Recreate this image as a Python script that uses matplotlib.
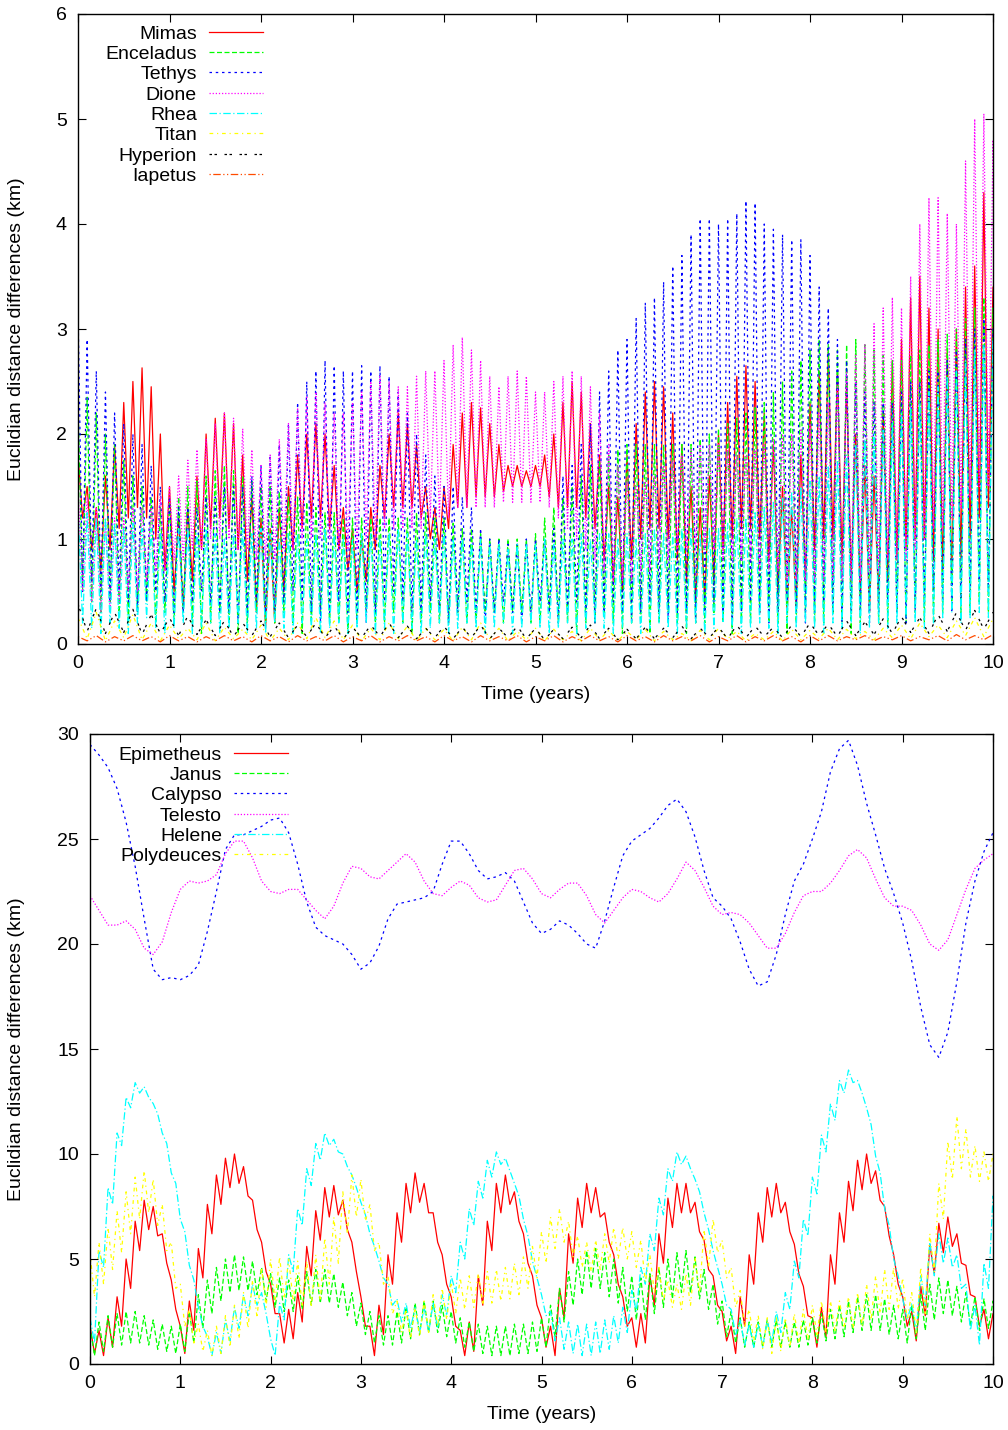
import numpy as np
import matplotlib
matplotlib.use("Agg")
import matplotlib.pyplot as plt

plt.rcParams['font.family'] = ['Liberation Sans', 'DejaVu Sans']
plt.rcParams['font.size'] = 14

# --- data ---
# time grids (years): 0.1 step for most series, 0.2 step for the small ones
t_fine = np.round(np.arange(0, 10.01, 0.1), 2)
t_coarse = np.round(np.arange(0, 10.01, 0.2), 2)

# top panel: local maxima (hi) and minima (lo) of each oscillating series, km
mimas_hi = [1.8, 1.5, 1.3, 1.6, 1.9, 2.3, 2.5, 2.63, 2.45, 2.0,
            1.5, 1.2, 1.3, 1.6, 2.0, 2.15, 2.2, 2.1, 1.8, 1.4,
            1.2, 1.1, 1.3, 1.5, 1.8, 2.0, 2.1, 2.0, 1.7, 1.3,
            1.1, 1.0, 1.3, 1.7, 2.0, 2.2, 2.1, 1.9, 1.5, 1.3,
            1.5, 1.9, 2.2, 2.3, 2.25, 2.1, 1.9, 1.7, 1.7, 1.65,
            1.7, 1.8, 2.0, 2.3, 2.5, 2.4, 2.1, 1.8, 1.5, 1.4,
            1.8, 2.1, 2.4, 2.5, 2.45, 2.2, 1.9, 1.5, 1.3, 1.6,
            2.0, 2.3, 2.55, 2.65, 2.5, 2.2, 1.9, 1.5, 1.3, 1.8,
            2.3, 2.6, 2.8, 2.6, 2.5, 2.0, 1.7, 1.6, 2.2, 2.7,
            2.9, 3.3, 3.5, 3.2, 3.0, 2.8, 3.0, 3.4, 3.6, 4.3,
            3.4]
mimas_lo = [1.2, 0.9, 0.7, 0.9, 1.1, 1.2, 1.3, 1.2, 1.0, 0.7,
            0.5, 0.3, 0.6, 0.9, 1.1, 1.2, 1.1, 0.9, 0.6, 0.3,
            0.15, 0.2, 0.5, 0.9, 1.1, 1.2, 1.2, 1.1, 0.9, 0.7,
            0.5, 0.6, 0.9, 1.2, 1.3, 1.3, 1.3, 1.2, 1.0, 0.9,
            1.1, 1.3, 1.3, 1.4, 1.4, 1.4, 1.45, 1.5, 1.5, 1.5,
            1.5, 1.4, 1.3, 1.3, 1.3, 1.2, 1.1, 0.8, 0.6, 0.5,
            0.8, 1.0, 1.1, 1.1, 1.0, 0.8, 0.6, 0.4, 0.4, 0.6,
            0.9, 1.0, 1.1, 1.1, 1.0, 0.8, 0.5, 0.3, 0.3, 0.6,
            0.9, 1.0, 1.0, 0.8, 0.6, 0.4, 0.3, 0.4, 0.6, 0.8,
            0.9, 1.0, 1.0, 0.8, 0.7, 0.6, 0.8, 1.0, 1.2, 1.3,
            1.2]
enceladus_hi = [2.3, 2.35, 2.2, 2.0, 1.9, 1.75, 1.6, 1.5, 1.4, 1.3,
                1.35, 1.4, 1.5, 1.55, 1.6, 1.65, 1.7, 1.65, 1.6, 1.55,
                1.5, 1.5, 1.45, 1.4, 1.4, 1.35, 1.3, 1.25, 1.25, 1.2,
                1.2, 1.2, 1.2, 1.2, 1.2, 1.2, 1.2, 1.25, 1.25, 1.2,
                1.2, 1.15, 1.1, 1.1, 1.05, 1.0, 1.0, 1.0, 1.0, 1.0,
                1.05, 1.2, 1.3, 1.4, 1.5, 1.6, 1.7, 1.75, 1.8, 1.85,
                1.9, 1.9, 1.9, 1.9, 1.9, 1.9, 1.9, 1.9, 1.95, 2.0,
                2.05, 2.1, 2.15, 2.2, 2.25, 2.3, 2.4, 2.5, 2.6, 2.7,
                2.8, 2.9, 2.85, 2.8, 2.85, 2.9, 2.85, 2.8, 2.75, 2.7,
                2.7, 2.75, 2.8, 2.85, 2.9, 2.95, 3.0, 3.1, 3.2, 3.3,
                3.2]
enceladus_lo = [0.5, 0.4, 0.3, 0.4, 0.3, 0.2, 0.3, 0.4, 0.2, 0.3,
                0.2, 0.3, 0.2, 0.1, 0.2, 0.3, 0.2, 0.1, 0.2, 0.3,
                0.2, 0.2, 0.3, 0.2, 0.1, 0.2, 0.3, 0.2, 0.2, 0.1,
                0.2, 0.3, 0.2, 0.2, 0.3, 0.2, 0.1, 0.2, 0.3, 0.2,
                0.2, 0.3, 0.2, 0.2, 0.3, 0.3, 0.2, 0.3, 0.3, 0.2,
                0.2, 0.3, 0.2, 0.2, 0.1, 0.2, 0.2, 0.3, 0.2, 0.1,
                0.2, 0.2, 0.1, 0.2, 0.3, 0.2, 0.1, 0.2, 0.2, 0.3,
                0.2, 0.1, 0.2, 0.2, 0.3, 0.2, 0.2, 0.1, 0.2, 0.3,
                0.2, 0.2, 0.3, 0.2, 0.1, 0.2, 0.3, 0.2, 0.2, 0.3,
                0.2, 0.3, 0.2, 0.2, 0.3, 0.4, 0.3, 0.3, 0.4, 0.3,
                0.4]
tethys_hi = [3.2, 2.9, 2.6, 2.4, 2.2, 2.1, 2.0, 1.9, 1.7, 1.5,
             1.4, 1.3, 1.3, 1.3, 1.4, 1.4, 1.5, 1.5, 1.5, 1.6,
             1.7, 1.8, 1.9, 2.1, 2.3, 2.5, 2.6, 2.7, 2.65, 2.6,
             2.6, 2.65, 2.6, 2.65, 2.55, 2.4, 2.2, 2.0, 1.8, 1.6,
             1.5, 1.5, 1.4, 1.3, 1.1, 1.0, 1.0, 0.95, 0.95, 1.0,
             1.0, 1.0, 1.1, 1.6, 1.7, 1.9, 2.1, 2.4, 2.6, 2.8,
             2.9, 3.1, 3.25, 3.3, 3.45, 3.6, 3.7, 3.9, 4.05, 4.05,
             4.0, 4.05, 4.1, 4.22, 4.2, 4.0, 3.95, 3.9, 3.85, 3.85,
             3.7, 3.4, 3.2, 2.9, 2.7, 2.5, 2.4, 2.3, 2.3, 2.3,
             2.4, 2.5, 2.5, 2.6, 2.6, 2.7, 2.8, 2.9, 3.0, 3.1,
             3.0]
tethys_lo = [0.5, 0.6, 0.5, 0.4, 0.5, 0.4, 0.3, 0.4, 0.5, 0.4,
             0.3, 0.3, 0.4, 0.5, 0.4, 0.3, 0.3, 0.2, 0.3, 0.4,
             0.3, 0.3, 0.4, 0.5, 0.4, 0.3, 0.2, 0.3, 0.4, 0.3,
             0.2, 0.2, 0.3, 0.4, 0.5, 0.4, 0.3, 0.3, 0.4, 0.3,
             0.2, 0.3, 0.4, 0.3, 0.2, 0.3, 0.4, 0.3, 0.2, 0.3,
             0.4, 0.3, 0.2, 0.3, 0.4, 0.3, 0.2, 0.3, 0.4, 0.3,
             0.2, 0.3, 0.4, 0.3, 0.2, 0.3, 0.3, 0.2, 0.3, 0.4,
             0.3, 0.2, 0.3, 0.4, 0.3, 0.2, 0.3, 0.4, 0.3, 0.2,
             0.3, 0.4, 0.3, 0.2, 0.3, 0.3, 0.2, 0.3, 0.4, 0.3,
             0.2, 0.3, 0.4, 0.5, 0.4, 0.3, 0.4, 0.5, 0.6, 0.5,
             0.6]
dione_hi = [1.5, 1.4, 1.3, 1.2, 1.2, 1.2, 1.3, 1.3, 1.3, 1.4,
            1.5, 1.6, 1.75, 1.85, 1.95, 2.1, 2.2, 2.15, 2.05, 1.85,
            1.7, 1.8, 1.95, 2.1, 2.25, 2.35, 2.4, 2.3, 2.2, 2.2,
            2.3, 2.4, 2.5, 2.55, 2.5, 2.45, 2.45, 2.55, 2.6, 2.6,
            2.7, 2.85, 2.92, 2.8, 2.7, 2.55, 2.45, 2.55, 2.6, 2.55,
            2.4, 2.4, 2.5, 2.55, 2.6, 2.55, 2.45, 2.2, 1.9, 1.7,
            1.55, 1.5, 1.55, 1.6, 1.7, 1.75, 1.8, 1.85, 1.9, 1.9,
            1.9, 1.85, 1.8, 1.8, 1.85, 1.9, 1.95, 2.0, 2.0, 2.05,
            2.1, 2.2, 2.3, 2.45, 2.6, 2.75, 2.85, 3.05, 3.2, 3.3,
            3.2, 3.5, 4.0, 4.25, 4.25, 4.1, 4.0, 4.6, 5.0, 5.05,
            4.8]
dione_lo = [0.5, 0.4, 0.3, 0.3, 0.4, 0.5, 0.5, 0.6, 0.7, 0.7,
            0.8, 0.8, 0.9, 0.9, 1.0, 1.0, 1.0, 0.9, 0.9, 0.8,
            0.8, 0.8, 0.9, 0.9, 1.0, 1.0, 1.0, 1.0, 0.9, 0.9,
            0.9, 1.0, 1.0, 1.1, 1.1, 1.1, 1.1, 1.1, 1.2, 1.2,
            1.2, 1.3, 1.3, 1.3, 1.3, 1.3, 1.35, 1.35, 1.35, 1.35,
            1.35, 1.3, 1.2, 1.1, 1.0, 0.9, 0.8, 0.7, 0.6, 0.6,
            0.6, 0.7, 0.7, 0.8, 0.8, 0.9, 0.9, 0.9, 0.9, 0.9,
            0.8, 0.8, 0.8, 0.8, 0.7, 0.7, 0.7, 0.6, 0.6, 0.6,
            0.6, 0.6, 0.6, 0.6, 0.6, 0.6, 0.7, 0.7, 0.8, 0.8,
            0.8, 0.9, 1.0, 1.1, 1.1, 1.2, 1.3, 1.4, 1.5, 1.5,
            1.4]
rhea_hi = [1.3, 1.25, 1.2, 1.2, 1.15, 1.1, 1.15, 1.1, 1.1, 1.05,
           1.05, 1.1, 1.1, 1.05, 1.1, 1.05, 1.0, 1.05, 1.1, 1.05,
           1.1, 1.05, 1.0, 1.05, 1.05, 1.0, 1.05, 1.1, 1.05, 1.0,
           1.0, 1.05, 1.05, 1.0, 1.05, 1.1, 1.05, 1.0, 1.05, 1.0,
           1.05, 1.0, 1.0, 0.95, 1.0, 0.95, 0.95, 0.9, 0.95, 0.95,
           0.95, 1.0, 0.95, 1.0, 1.0, 1.05, 1.0, 1.05, 1.05, 1.0,
           1.05, 1.0, 1.05, 1.1, 1.05, 1.05, 1.1, 1.1, 1.05, 1.1,
           1.1, 1.15, 1.2, 1.2, 1.25, 1.3, 1.35, 1.4, 1.45, 1.5,
           1.55, 1.6, 1.7, 1.75, 1.8, 1.9, 1.95, 2.0, 2.05, 2.1,
           2.2, 2.25, 2.3, 2.4, 2.45, 2.55, 2.6, 2.7, 2.8, 2.85,
           2.9]
rhea_lo = [0.2, 0.15, 0.1, 0.2, 0.15, 0.1, 0.2, 0.25, 0.15, 0.1,
           0.15, 0.2, 0.1, 0.15, 0.2, 0.1, 0.15, 0.2, 0.1, 0.15,
           0.1, 0.2, 0.15, 0.1, 0.2, 0.15, 0.1, 0.15, 0.2, 0.1,
           0.15, 0.2, 0.1, 0.15, 0.1, 0.2, 0.15, 0.1, 0.15, 0.2,
           0.1, 0.15, 0.2, 0.15, 0.1, 0.15, 0.2, 0.1, 0.15, 0.2,
           0.15, 0.1, 0.15, 0.2, 0.1, 0.15, 0.2, 0.15, 0.1, 0.15,
           0.2, 0.1, 0.15, 0.2, 0.15, 0.1, 0.15, 0.2, 0.1, 0.15,
           0.2, 0.15, 0.1, 0.15, 0.2, 0.15, 0.1, 0.2, 0.15, 0.2,
           0.15, 0.1, 0.2, 0.15, 0.2, 0.1, 0.15, 0.2, 0.15, 0.2,
           0.25, 0.2, 0.15, 0.2, 0.25, 0.3, 0.2, 0.25, 0.3, 0.25,
           0.3]
titan_hi = [0.25, 0.3, 0.22, 0.28, 0.2, 0.18, 0.15, 0.2, 0.16, 0.14, 0.18,
            0.15, 0.2, 0.25, 0.22, 0.18, 0.15, 0.2, 0.17, 0.15, 0.14,
            0.16, 0.2, 0.15, 0.12, 0.15, 0.14, 0.12, 0.15, 0.13, 0.12,
            0.14, 0.12, 0.1, 0.13, 0.15, 0.12, 0.1, 0.12, 0.14, 0.13,
            0.15, 0.14, 0.12, 0.15, 0.18, 0.2, 0.18, 0.22, 0.25, 0.24]
titan_lo = [0.05, 0.03, 0.06, 0.04, 0.03, 0.05, 0.04, 0.03, 0.05, 0.04, 0.03,
            0.04, 0.05, 0.06, 0.04, 0.03, 0.04, 0.05, 0.03, 0.04, 0.03,
            0.04, 0.05, 0.03, 0.04, 0.03, 0.04, 0.03, 0.04, 0.03, 0.04,
            0.03, 0.04, 0.03, 0.04, 0.05, 0.03, 0.04, 0.03, 0.04, 0.05,
            0.04, 0.05, 0.04, 0.06, 0.05, 0.07, 0.06, 0.08, 0.07, 0.08]
hyperion_hi = [0.38, 0.34, 0.3, 0.33, 0.28, 0.25, 0.27, 0.23, 0.22, 0.2, 0.22,
               0.2, 0.18, 0.2, 0.17, 0.16, 0.18, 0.2, 0.17, 0.15, 0.17,
               0.16, 0.18, 0.15, 0.17, 0.15, 0.14, 0.16, 0.18, 0.15, 0.14,
               0.16, 0.15, 0.17, 0.15, 0.16, 0.18, 0.17, 0.16, 0.18, 0.2,
               0.19, 0.22, 0.21, 0.24, 0.26, 0.25, 0.28, 0.3, 0.32, 0.3]
hyperion_lo = [0.12, 0.1, 0.11, 0.09, 0.1, 0.08, 0.09, 0.08, 0.07, 0.08, 0.07,
               0.06, 0.07, 0.06, 0.05, 0.06, 0.07, 0.06, 0.05, 0.06, 0.05,
               0.06, 0.05, 0.06, 0.05, 0.04, 0.05, 0.06, 0.05, 0.04, 0.05,
               0.05, 0.06, 0.05, 0.06, 0.05, 0.06, 0.07, 0.06, 0.07, 0.08,
               0.07, 0.08, 0.09, 0.1, 0.11, 0.1, 0.12, 0.13, 0.14, 0.13]
iapetus_hi = [0.07, 0.08, 0.07, 0.08, 0.07, 0.08, 0.07, 0.07, 0.08, 0.07, 0.08,
              0.07, 0.08, 0.07, 0.08, 0.07, 0.08, 0.07, 0.08, 0.07, 0.08,
              0.07, 0.08, 0.07, 0.08, 0.07, 0.08, 0.07, 0.08, 0.07, 0.08,
              0.07, 0.08, 0.07, 0.08, 0.07, 0.08, 0.07, 0.08, 0.07, 0.08,
              0.08, 0.07, 0.08, 0.07, 0.08, 0.07, 0.08, 0.09, 0.08, 0.09]
iapetus_lo = [0.03, 0.02, 0.03, 0.03, 0.02, 0.03, 0.02, 0.03, 0.03, 0.02, 0.03,
              0.02, 0.03, 0.03, 0.02, 0.03, 0.02, 0.03, 0.03, 0.02, 0.03,
              0.02, 0.03, 0.03, 0.02, 0.03, 0.02, 0.03, 0.03, 0.02, 0.03,
              0.02, 0.03, 0.03, 0.02, 0.03, 0.02, 0.03, 0.03, 0.02, 0.03,
              0.03, 0.04, 0.03, 0.04, 0.03, 0.04, 0.03, 0.04, 0.04, 0.04]

# bottom panel
calypso = [29.5, 29.0, 28.4, 27.4, 25.8, 23.7, 21.2, 18.8, 18.3, 18.4,
           18.3, 18.5, 19.0, 20.6, 22.5, 24.5, 25.2, 25.2, 25.4, 25.6,
           25.9, 26.0, 25.3, 23.8, 22.0, 20.8, 20.4, 20.2, 20.0, 19.5,
           18.8, 19.1, 19.9, 21.2, 21.9, 22.0, 22.1, 22.2, 22.5, 23.8,
           24.9, 24.9, 24.3, 23.5, 23.1, 23.2, 23.4, 23.0, 22.0, 21.0,
           20.5, 20.7, 21.1, 20.9, 20.5, 20.0, 19.8, 21.1, 22.7, 24.2,
           24.9, 25.2, 25.5, 26.0, 26.6, 26.9, 26.3, 25.1, 23.5, 22.2,
           21.8, 21.2, 20.1, 18.8, 18.0, 18.2, 19.5, 21.4, 23.0, 23.8,
           25.0, 26.3, 28.2, 29.3, 29.7, 28.5, 26.7, 25.2, 23.6, 22.4,
           21.0, 19.2, 17.0, 15.2, 14.6, 15.8, 18.2, 21.0, 23.0, 24.4,
           25.3]
telesto = [22.3, 21.6, 20.9, 20.9, 21.1, 20.7, 19.8, 19.5, 20.1, 21.5,
           22.6, 23.0, 22.9, 23.0, 23.3, 24.3, 24.9, 24.9, 24.1, 23.0,
           22.5, 22.4, 22.6, 22.6, 22.1, 21.6, 21.2, 21.8, 22.9, 23.7,
           23.6, 23.2, 23.1, 23.5, 23.9, 24.3, 23.9, 23.0, 22.4, 22.3,
           22.7, 23.0, 22.8, 22.2, 22.0, 22.1, 22.8, 23.5, 23.6, 23.1,
           22.4, 22.2, 22.6, 22.9, 22.9, 22.3, 21.4, 21.0, 21.6, 22.2,
           22.6, 22.5, 22.2, 22.0, 22.4, 23.1, 23.9, 23.5, 22.7, 21.8,
           21.4, 21.5, 21.4, 21.0, 20.4, 19.8, 19.8, 20.5, 21.5, 22.3,
           22.5, 22.5, 22.9, 23.5, 24.2, 24.5, 24.1, 23.1, 22.2, 21.8,
           21.8, 21.6, 20.9, 20.0, 19.7, 20.2, 21.4, 22.6, 23.6, 24.0,
           24.3]
epimetheus_hi = [1.8, 1.6, 2.2, 3.2, 5.0, 6.8, 7.8, 7.5, 6.2, 4.0,
                 1.8, 3.0, 5.5, 7.6, 9.0, 9.8, 10.0, 9.4, 7.8, 5.8,
                 3.8, 2.4, 2.6, 3.4, 5.6, 7.3, 8.4, 8.5, 7.8, 5.8,
                 3.2, 1.8, 2.8, 5.2, 7.2, 8.6, 9.1, 8.6, 7.2, 5.2,
                 3.2, 1.6, 2.0, 4.2, 6.8, 8.6, 9.0, 8.2, 6.2, 4.2,
                 2.2, 1.8, 3.6, 6.2, 7.9, 8.6, 8.4, 7.2, 5.2, 3.2,
                 2.2, 2.4, 4.2, 6.2, 7.9, 8.6, 8.6, 7.7, 5.9, 4.2,
                 2.5, 1.8, 3.2, 5.2, 7.2, 8.4, 8.6, 7.7, 5.7, 3.7,
                 2.2, 2.7, 5.2, 7.2, 8.7, 9.7, 10.0, 9.2, 7.5, 5.2,
                 3.2, 2.5, 3.7, 5.7, 6.7, 7.0, 6.2, 4.7, 3.2, 2.6,
                 2.4]
epimetheus_lo = [0.5, 0.4, 0.8, 1.8, 3.6, 5.4, 6.4, 6.1, 4.8, 2.6,
                 0.5, 1.6, 4.1, 6.2, 7.6, 8.4, 8.6, 8.0, 6.4, 4.4,
                 2.4, 1.0, 1.2, 2.0, 4.2, 5.9, 7.0, 7.1, 6.4, 4.4,
                 1.8, 0.4, 1.4, 3.8, 5.8, 7.2, 7.7, 7.2, 5.8, 3.8,
                 1.8, 0.4, 0.6, 2.8, 5.4, 7.2, 7.6, 6.8, 4.8, 2.8,
                 0.8, 0.4, 2.2, 4.8, 6.5, 7.2, 7.0, 5.8, 3.8, 1.8,
                 0.8, 1.0, 2.8, 4.8, 6.5, 7.2, 7.2, 6.3, 4.5, 2.8,
                 1.1, 0.5, 1.8, 3.8, 5.8, 7.0, 7.2, 6.3, 4.3, 2.3,
                 0.8, 1.3, 3.8, 5.8, 7.3, 8.3, 8.6, 7.8, 6.1, 3.8,
                 1.8, 1.1, 2.3, 4.3, 5.3, 5.6, 4.8, 3.3, 1.8, 1.2,
                 1.0]
janus_hi = [1.8, 2.0, 2.3, 2.4, 2.5, 2.5, 2.3, 2.1, 1.9, 1.8,
            1.9, 2.5, 3.3, 4.0, 4.6, 5.0, 5.2, 5.1, 4.9, 4.6,
            4.3, 4.1, 4.0, 4.2, 4.4, 4.5, 4.5, 4.3, 3.9, 3.4,
            2.9, 2.5, 2.3, 2.3, 2.5, 2.7, 2.9, 3.0, 3.0, 2.8,
            2.5, 2.2, 2.0, 1.9, 1.8, 1.8, 1.8, 1.9, 1.9, 2.0,
            2.2, 2.8, 3.6, 4.4, 5.0, 5.4, 5.5, 5.3, 5.0, 4.6,
            4.2, 4.1, 4.3, 4.6, 5.0, 5.3, 5.4, 5.1, 4.5, 3.8,
            3.0, 2.5, 2.2, 2.0, 2.0, 2.1, 2.1, 2.0, 2.0, 2.1,
            2.2, 2.4, 2.6, 2.8, 3.0, 3.2, 3.3, 3.3, 3.1, 2.8,
            2.6, 2.8, 3.3, 3.8, 4.1, 4.0, 3.7, 3.4, 3.2, 3.1,
            3.0]
janus_lo = [0.4, 0.6, 0.8, 0.9, 1.0, 1.0, 0.9, 0.7, 0.6, 0.5,
            0.6, 1.0, 1.7, 2.4, 3.0, 3.4, 3.5, 3.5, 3.3, 3.0,
            2.7, 2.5, 2.5, 2.6, 2.8, 2.9, 2.9, 2.7, 2.3, 1.8,
            1.4, 1.0, 0.9, 0.9, 1.0, 1.2, 1.4, 1.5, 1.5, 1.3,
            1.0, 0.8, 0.6, 0.5, 0.4, 0.4, 0.4, 0.5, 0.5, 0.6,
            0.8, 1.3, 2.0, 2.8, 3.3, 3.6, 3.6, 3.2, 2.9, 2.5,
            2.1, 2.1, 2.4, 2.7, 3.1, 3.4, 3.4, 3.1, 2.6, 1.9,
            1.3, 1.0, 0.8, 0.8, 0.8, 0.8, 0.8, 0.8, 0.8, 0.9,
            1.0, 1.1, 1.2, 1.3, 1.5, 1.6, 1.6, 1.6, 1.4, 1.2,
            1.0, 1.2, 1.6, 2.1, 2.4, 2.3, 2.0, 1.8, 1.6, 1.7,
            1.8]
helene_hi = [2.2, 5.4, 8.4, 11.0, 12.7, 13.4, 13.2, 12.4, 11.0, 9.1,
             6.9, 4.7, 2.7, 1.3, 1.5, 2.1, 2.7, 3.3, 3.8, 3.4,
             1.2, 2.9, 5.2, 7.4, 9.3, 10.5, 11.0, 10.7, 10.0, 9.0,
             7.7, 6.2, 4.9, 3.8, 3.1, 2.9, 2.7, 2.7, 2.9, 3.3,
             4.2, 5.8, 7.4, 8.7, 9.7, 10.1, 9.8, 8.6, 6.9, 4.9,
             3.3, 2.5, 2.2, 2.0, 1.9, 1.9, 2.0, 2.1, 2.3, 2.7,
             3.5, 4.6, 6.2, 7.9, 9.3, 10.1, 9.9, 8.8, 7.2, 5.4,
             3.8, 2.6, 2.1, 1.9, 1.9, 2.1, 2.5, 3.4, 4.9, 6.9,
             8.9, 10.9, 12.4, 13.5, 14.0, 13.5, 12.2, 9.9, 7.4, 5.0,
             3.1, 2.9, 4.2, 5.8, 6.2, 6.0, 5.2, 3.8, 2.8, 4.8,
             8.0]
helene_lo = [1.0, 4.6, 7.6, 10.4, 12.2, 12.9, 12.7, 11.9, 10.5, 8.6,
             6.3, 4.0, 1.8, 0.4, 0.5, 1.1, 1.7, 2.3, 2.8, 2.4,
             0.4, 2.1, 4.4, 6.6, 8.5, 9.7, 10.4, 10.1, 9.4, 8.4,
             7.1, 5.6, 4.1, 2.8, 2.0, 1.7, 1.5, 1.5, 1.7, 2.3,
             3.4, 5.0, 6.6, 7.9, 8.9, 9.5, 9.2, 8.0, 6.1, 4.1,
             2.3, 1.1, 0.7, 0.5, 0.4, 0.4, 0.5, 0.7, 1.0, 1.5,
             2.5, 3.8, 5.4, 7.1, 8.7, 9.5, 9.3, 8.2, 6.4, 4.6,
             2.8, 1.4, 0.9, 0.8, 0.8, 1.0, 1.5, 2.6, 4.1, 6.1,
             8.1, 10.1, 11.6, 12.9, 13.4, 12.9, 11.4, 9.1, 6.6, 4.2,
             2.1, 1.5, 2.8, 4.2, 4.8, 4.6, 3.6, 1.6, 0.9, 3.6,
             7.2]
polydeuces_hi = [5.3, 5.8, 6.5, 7.3, 8.2, 8.9, 9.2, 8.8, 7.6, 5.8,
                 3.8, 2.6, 1.9, 1.6, 1.8, 2.3, 2.8, 3.4, 4.0, 4.6,
                 5.0, 5.1, 5.0, 4.9, 4.9, 5.2, 6.0, 7.0, 8.2, 9.0,
                 8.8, 7.6, 5.8, 4.2, 3.0, 2.6, 2.7, 3.0, 3.3, 3.6,
                 3.9, 4.1, 4.2, 4.3, 4.4, 4.5, 4.6, 4.8, 5.1, 5.6,
                 6.3, 7.0, 7.4, 6.8, 6.1, 5.8, 5.9, 6.2, 6.5, 6.5,
                 6.3, 5.9, 5.2, 4.6, 4.0, 3.8, 4.3, 5.1, 6.4, 6.9,
                 5.9, 4.6, 3.5, 2.6, 2.3, 2.2, 2.2, 2.2, 2.4, 2.6,
                 2.8, 3.0, 3.0, 3.0, 3.2, 3.4, 3.8, 4.2, 4.5, 4.6,
                 4.1, 3.4, 4.6, 6.2, 8.6, 10.6, 11.8, 11.2, 10.4, 10.1,
                 10.0]
polydeuces_lo = [3.2, 3.8, 4.5, 5.3, 6.2, 6.9, 7.2, 6.6, 5.4, 3.6,
                 1.8, 1.0, 0.6, 0.4, 0.5, 0.8, 1.2, 1.7, 2.2, 2.7,
                 3.0, 3.1, 3.0, 2.8, 2.7, 3.0, 3.8, 4.8, 6.2, 7.0,
                 6.8, 5.4, 3.8, 2.4, 1.5, 1.2, 1.3, 1.5, 1.8, 2.1,
                 2.4, 2.6, 2.7, 2.8, 2.9, 3.0, 3.1, 3.3, 3.6, 4.1,
                 4.8, 5.5, 5.8, 5.1, 4.6, 4.4, 4.5, 4.8, 5.0, 5.0,
                 4.6, 3.9, 3.4, 3.0, 2.7, 2.6, 2.8, 3.4, 4.6, 5.3,
                 4.1, 2.7, 1.8, 1.1, 0.7, 0.5, 0.6, 0.8, 1.0, 1.2,
                 1.4, 1.5, 1.6, 1.7, 1.7, 1.8, 2.1, 2.4, 2.6, 2.6,
                 2.1, 1.5, 2.4, 4.4, 6.9, 8.8, 9.3, 8.9, 8.7, 8.7,
                 8.8]

top_names = ["Mimas", "Enceladus", "Tethys", "Dione", "Rhea", "Titan", "Hyperion", "Iapetus"]
bottom_names = ["Epimetheus", "Janus", "Calypso", "Telesto", "Helene", "Polydeuces"]

# gnuplot postscript line types 1..8
colors = ["#ff0000", "#00ff00", "#0000ff", "#ff00ff", "#00ffff", "#ffff00", "#000000", "#ff4c00"]
dashes = ["-", (0, (4, 2)), (0, (2, 3)), (0, (1, 1.5)), (0, (6, 2, 1, 2)),
          (0, (3, 3, 1, 3)), (0, (2, 2, 2, 6)), (0, (1, 2, 6, 2, 1, 2))]


def zigzag(t, hi, lo):
    """Alternate local maxima and minima: max at t, min half a step later."""
    t = np.asarray(t, dtype=float)
    step = t[1] - t[0]
    xs = np.empty(2 * len(t))
    ys = np.empty(2 * len(t))
    xs[0::2] = t
    xs[1::2] = t + step / 2
    ys[0::2] = hi
    ys[1::2] = lo
    return xs, ys


def style_axes(ax, ymax, ystep, ylabel_x):
    ax.set_xlim(0, 10)
    ax.set_ylim(0, ymax)
    ax.set_xticks(range(0, 11))
    ax.set_yticks(np.arange(0, ymax + 0.01, ystep))
    ax.tick_params(direction="in", length=6, width=0.8, top=True, right=True,
                   labelsize=14, pad=8)
    for s in ax.spines.values():
        s.set_linewidth(1.0)
    ax.set_xlabel("Time (years)", fontsize=14)
    ax.set_ylabel("Euclidian distance differences (km)", fontsize=14)
    ax.xaxis.set_label_coords(0.5, -0.066)
    ax.yaxis.set_label_coords(ylabel_x, 0.5)


fig = plt.figure(figsize=(10.08, 14.3), dpi=100)

# --- top panel ---
ax1 = fig.add_axes([78 / 1008, 1 - 644 / 1430, 915 / 1008, 630 / 1430])
top_series = [
    (t_fine, mimas_hi, mimas_lo),
    (t_fine, enceladus_hi, enceladus_lo),
    (t_fine, tethys_hi, tethys_lo),
    (t_fine, dione_hi, dione_lo),
    (t_fine, rhea_hi, rhea_lo),
    (t_coarse, titan_hi, titan_lo),
    (t_coarse, hyperion_hi, hyperion_lo),
    (t_coarse, iapetus_hi, iapetus_lo),
]
for i, (t, hi, lo) in enumerate(top_series):
    xs, ys = zigzag(t, hi, lo)
    ax1.plot(xs, ys, color=colors[i], linestyle=dashes[i], linewidth=0.9,
             label=top_names[i])
style_axes(ax1, 6, 1, -0.058)
ax1.legend(loc="upper right", bbox_to_anchor=((263 - 78) / 915, (644 - 25) / 630),
           frameon=False, markerfirst=False, handlelength=2.8, handletextpad=0.6,
           labelspacing=0.14, borderaxespad=0, borderpad=0, fontsize=14)

# --- bottom panel ---
ax2 = fig.add_axes([90 / 1008, 1 - 1364 / 1430, 903 / 1008, 630 / 1430])
bottom_series = [
    zigzag(t_fine, epimetheus_hi, epimetheus_lo),
    zigzag(t_fine, janus_hi, janus_lo),
    (t_fine, calypso),
    (t_fine, telesto),
    zigzag(t_fine, helene_hi, helene_lo),
    zigzag(t_fine, polydeuces_hi, polydeuces_lo),
]
for i, (xs, ys) in enumerate(bottom_series):
    ax2.plot(xs, ys, color=colors[i], linestyle=dashes[i], linewidth=0.9,
             label=bottom_names[i])
style_axes(ax2, 30, 5, -0.072)
ax2.legend(loc="upper right", bbox_to_anchor=((288 - 90) / 903, (1364 - 746) / 630),
           frameon=False, markerfirst=False, handlelength=2.8, handletextpad=0.6,
           labelspacing=0.14, borderaxespad=0, borderpad=0, fontsize=14)

fig.savefig("out.png", dpi=100)
